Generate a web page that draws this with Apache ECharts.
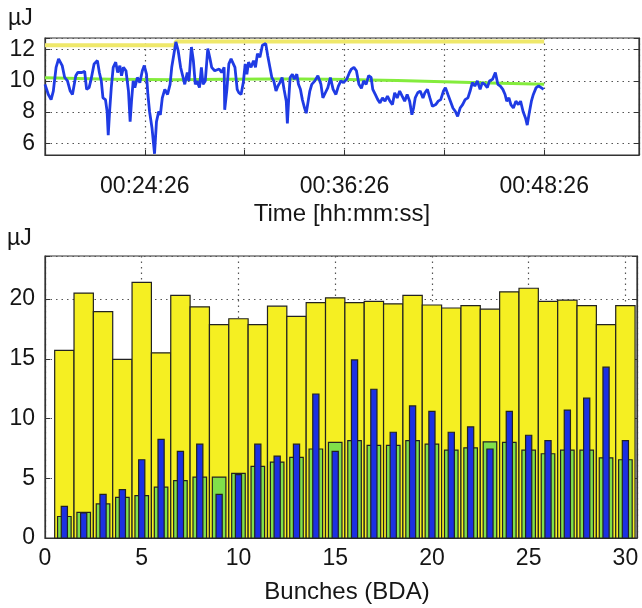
<!DOCTYPE html>
<html><head><meta charset="utf-8">
<title>Pulse energy</title>
<script src="https://cdn.jsdelivr.net/npm/echarts@6.0.0/dist/echarts.min.js"></script>
<style>
  html, body { margin: 0; padding: 0; background: #fff; }
  #chart { width: 642px; height: 608px; }
</style>
</head>
<body>
<div id="chart"></div>
<script>
// top panel: time in seconds counted from 00:00:26
var timeSec = [1080,1092,1102,1110,1120,1129,1136,1142,1151,1161,1171,1179,1191,1198,1213,1223,1230,1239,1245,1257,
  1269,1276,1283,1289,1298,1304,1308,1313,1319,1326,1335,1342,1350,1356,1363,1372,1381,1387,1392,1398,
  1404,1413,1422,1431,1438,1446,1451,1457,1466,1475,1482,1490,1496,1503,1512,1522,1531,1537,1544,1552,
  1560,1569,1578,1584,1593,1599,1608,1615,1622,1628,1637,1644,1650,1658,1667,1674,1681,1692,1699,1708,
  1717,1726,1728,1736,1743,1751,1758,1765,1773,1779,1787,1795,1802,1808,1814,1823,1832,1839,1846,1855,
  1864,1876,1883,1891,1898,1905,1913,1920,1927,1935,1942,1950,1954,1958,1964,1972,1979,1988,1994,2001,
  2008,2016,2022,2029,2035,2042,2053,2064,2075,2082,2091,2100,2109,2119,2129,2138,2147,2156,2168,2178,
  2185,2194,2203,2212,2221,2229,2238,2247,2256,2262,2271,2280,2288,2297,2306,2315,2324,2333,2341,2350,
  2359,2368,2377,2386,2395,2403,2409,2415,2424,2433,2443,2450,2459,2468,2477,2489,2498,2507,2517,2524,
  2533,2542,2551,2560,2568,2577,2586,2595,2605,2613,2621,2630,2639,2649,2657,2666,2675,2683,2694,2704,
  2713,2722,2731,2739,2745,2753,2760,2769,2778,2787,2795,2804,2813,2819,2826,2834,2841,2851,2860,2869,2878];
var pulseEnergy = [9.78,9.13,8.80,9.35,10.87,11.41,11.48,10.98,10.22,10.0,9.35,9.13,10.33,10.54,10.54,10.61,9.46,9.57,10.0,11.09,
  11.30,10.54,10.0,8.91,8.80,8.04,6.52,8.04,9.57,10.87,11.20,10.54,10.98,10.33,10.87,10.65,9.35,7.39,8.70,10.0,
  9.57,10.22,9.89,10.65,10.98,10.43,9.13,8.04,6.96,5.33,7.39,8.04,7.83,8.91,9.46,9.13,9.78,10.87,11.63,12.50,
  11.96,10.87,10.22,9.78,10.54,10.0,12.17,11.30,9.78,10.0,9.57,10.87,9.78,10.0,12.07,11.52,10.87,10.65,10.54,10.76,
  10.54,10.87,8.15,9.46,11.09,11.41,11.35,10.87,9.46,9.24,9.13,9.89,11.09,10.43,11.20,10.87,11.30,10.87,11.74,11.52,
  12.28,12.39,11.63,10.87,10.22,10.0,9.35,9.67,9.89,10.22,9.46,8.70,7.28,8.59,10.22,10.43,10.11,10.43,9.78,9.46,
  8.80,8.26,7.93,8.70,9.35,9.78,10.0,10.33,9.78,8.91,9.24,9.57,10.22,9.46,9.13,9.67,10.0,9.89,10.11,10.54,
  10.76,10.87,10.65,9.78,9.52,10.0,9.78,10.33,10.22,9.46,9.13,8.80,8.59,8.91,8.70,9.02,8.70,8.48,9.24,8.91,
  9.35,9.02,8.70,9.13,8.70,7.83,8.26,8.91,9.24,9.35,8.91,9.24,9.46,8.91,8.37,8.48,8.70,8.80,9.35,9.57,
  9.13,8.70,8.26,8.04,7.72,8.26,8.48,8.80,8.91,9.35,9.89,9.67,10.0,9.46,9.89,9.78,9.57,10.0,10.11,10.54,
  9.78,9.67,9.46,9.13,8.70,8.91,8.48,8.26,8.70,8.48,8.70,8.04,7.61,7.17,7.93,8.70,9.13,9.57,9.67,9.57,9.46];
var maxTime = [1080, 1548, 1552, 2880];
var maxLevel = [12.28, 12.28, 12.52, 12.52];
var meanTime = [1080, 1550, 1900, 2100, 2250, 2450, 2650, 2880];
var meanLevel = [10.2, 10.08, 10.12, 10.1, 10.06, 9.97, 9.88, 9.78];

// bottom panel
var bunches = [];
for (var i = 1; i <= 30; i++) bunches.push(i);
var yellowVals = [15.7,20.5,18.95,14.95,21.4,15.5,20.3,19.35,17.85,18.35,17.85,19.4,18.55,19.7,20.1,
  19.7,19.8,19.6,20.3,19.5,19.25,19.45,19.15,20.6,20.9,19.8,19.9,19.45,17.85,19.45];
var greenVals = [1.8,2.15,2.85,3.4,3.55,4.25,4.8,5.1,5.1,5.4,6.0,6.35,6.75,7.45,8.0,
  8.15,7.75,7.75,8.15,7.85,7.35,7.55,8.05,8.0,7.35,7.05,7.35,7.35,6.7,6.55];
var blueVals = [2.65,2.1,3.65,4.05,6.55,8.25,7.25,7.85,3.65,5.3,7.85,6.85,7.85,12.05,7.25,
  14.9,12.45,8.85,11.05,10.6,8.85,9.3,7.45,10.6,8.6,8.15,10.7,11.7,14.3,8.15];

var FONT = 'Liberation Sans';
var TXT = '#151515';
var FRAME = '#333';
var dots = { show: true, lineStyle: { color: '#555', width: 1.2, type: [1.5, 4] } };

function pairs(xs, ys) { return xs.map(function (x, k) { return [x, ys[k]]; }); }

function hms(v) {
  var s = v + 26;
  var h = Math.floor(s / 3600), m = Math.floor((s % 3600) / 60), c = s % 60;
  function p(n) { return (n < 10 ? '0' : '') + n; }
  return p(h) + ':' + p(m) + ':' + p(c);
}

function barItem(w, color) {
  return function (params, api) {
    var x = api.value(0), y = api.value(1);
    var a = api.coord([x - w / 2, y]);
    var b = api.coord([x + w / 2, 0]);
    return {
      type: 'rect',
      shape: { x: a[0], y: a[1], width: b[0] - a[0], height: b[1] - a[1] },
      style: { fill: color, stroke: '#222', lineWidth: 1.2 }
    };
  };
}

var tickLbl = { color: TXT, fontFamily: FONT, fontSize: 23 };
var titleTxt = { color: TXT, fontFamily: FONT, fontSize: 24 };

var chart = echarts.init(document.getElementById('chart'));
chart.setOption({
  animation: false,
  graphic: [
    { type: 'text', left: 8, top: 7, style: { text: 'µJ', fill: TXT, font: '23px "Liberation Sans"' } },
    { type: 'text', left: 7, top: 227, style: { text: 'µJ', fill: TXT, font: '23px "Liberation Sans"' } }
  ],
  grid: [
    { left: 45, top: 38, width: 595, height: 117, show: true, borderColor: FRAME, borderWidth: 1.2 },
    { left: 45, top: 256, width: 592, height: 282, show: true, borderColor: FRAME, borderWidth: 1.2 }
  ],
  xAxis: [
    {
      type: 'value', gridIndex: 0, min: 1080, max: 3222, interval: 360,
      axisLine: { lineStyle: { color: FRAME, width: 1.2 } },
      axisTick: { inside: true, length: 5, lineStyle: { color: FRAME } },
      axisLabel: Object.assign({ margin: 20, interval: 0, hideOverlap: false, formatter: function (v) {
        return (v > 1080 && (v / 360) % 2 === 0) ? hms(v) : '';
      } }, tickLbl),
      splitLine: dots,
      name: 'Time [hh:mm:ss]', nameLocation: 'middle', nameGap: 47,
      nameTextStyle: titleTxt
    },
    {
      type: 'value', gridIndex: 1, min: 0, max: 30.6, interval: 5,
      axisLine: { lineStyle: { color: FRAME, width: 1.2 } },
      axisTick: { inside: true, length: 5, lineStyle: { color: FRAME } },
      axisLabel: Object.assign({ margin: 9, formatter: function (v) { return v % 5 === 0 ? v : ''; } }, tickLbl),
      splitLine: dots,
      name: 'Bunches (BDA)', nameLocation: 'middle', nameGap: 42,
      nameTextStyle: Object.assign({ padding: [0, 0, 0, 12] }, titleTxt)
    }
  ],
  yAxis: [
    {
      type: 'value', gridIndex: 0, min: 5.25, max: 12.75, splitNumber: 4, minInterval: 2, maxInterval: 2,
      axisLine: { show: true, lineStyle: { color: FRAME, width: 1.2 } },
      axisTick: { inside: true, length: 5, lineStyle: { color: FRAME } },
      axisLabel: Object.assign({ margin: 10, formatter: function (v) { return v % 2 === 0 ? v : ''; } }, tickLbl),
      splitLine: dots
    },
    {
      type: 'value', gridIndex: 0, position: 'right', min: 5.25, max: 12.75, splitNumber: 4, minInterval: 2, maxInterval: 2,
      axisLine: { show: true, lineStyle: { color: FRAME, width: 1.2 } },
      axisTick: { inside: true, length: 5, lineStyle: { color: FRAME } },
      axisLabel: { show: false }, splitLine: { show: false }
    },
    {
      type: 'value', gridIndex: 1, min: 0, max: 23.6, interval: 5,
      axisLine: { show: true, lineStyle: { color: FRAME, width: 1.2 } },
      axisTick: { inside: true, length: 5, lineStyle: { color: FRAME } },
      axisLabel: Object.assign({ margin: 10, formatter: function (v) { return v % 5 === 0 ? v : ''; } }, tickLbl),
      splitLine: dots
    },
    {
      type: 'value', gridIndex: 1, position: 'right', min: 0, max: 23.6, interval: 5,
      axisLine: { show: true, lineStyle: { color: FRAME, width: 1.2 } },
      axisTick: { inside: true, length: 5, lineStyle: { color: FRAME } },
      axisLabel: { show: false }, splitLine: { show: false }
    }
  ],
  series: [
    { type: 'line', xAxisIndex: 0, yAxisIndex: 0, data: pairs(maxTime, maxLevel), symbol: 'none',
      lineStyle: { color: '#efe86a', width: 4 } },
    { type: 'line', xAxisIndex: 0, yAxisIndex: 0, data: pairs(meanTime, meanLevel), symbol: 'none', smooth: true,
      lineStyle: { color: '#84ec3c', width: 3 } },
    { type: 'line', xAxisIndex: 0, yAxisIndex: 0, data: pairs(timeSec, pulseEnergy), symbol: 'none',
      lineStyle: { color: '#1f3be4', width: 2.8 } },
    { type: 'custom', xAxisIndex: 1, yAxisIndex: 2, data: pairs(bunches, yellowVals),
      renderItem: barItem(1.0, '#f5ef22') },
    { type: 'custom', xAxisIndex: 1, yAxisIndex: 2, data: pairs(bunches, greenVals),
      renderItem: barItem(0.7, '#80e04a') },
    { type: 'custom', xAxisIndex: 1, yAxisIndex: 2, data: pairs(bunches, blueVals),
      renderItem: barItem(0.32, '#1c30e2') }
  ]
});
</script>
</body></html>
